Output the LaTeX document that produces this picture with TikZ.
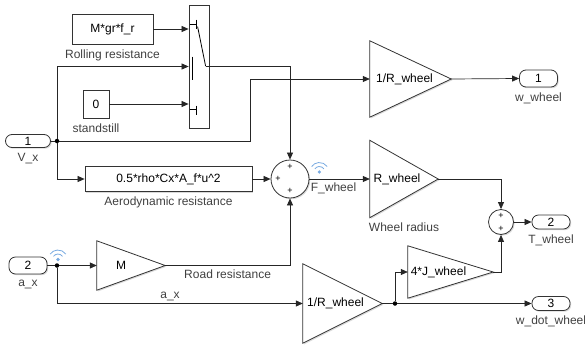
\documentclass[tikz,border=0pt]{standalone}
\usepackage{fontspec}
\setmainfont{Liberation Sans}
\usetikzlibrary{arrows.meta,calc,positioning,shadows}
\definecolor{logblue}{RGB}{120,170,225}
\pgfdeclarelayer{bg}
\pgfsetlayers{bg,main}
\tikzset{
  blk/.style={draw=black!80, fill=white, line width=0.8pt,
    drop shadow={shadow xshift=1.2pt, shadow yshift=-1.2pt, opacity=0.3}},
  box/.style={blk, rectangle, inner sep=0pt},
  port/.style={blk, rectangle, rounded corners=6.5pt, minimum width=38pt,
    minimum height=14pt, inner sep=0pt},
  sumb/.style={blk, circle, inner sep=0pt},
  gain/.style={rectangle, inner sep=0pt},
  sig/.style={draw=black!85, line width=0.7pt, -{Triangle[length=7pt,width=6pt]}},
  wire/.style={draw=black!85, line width=0.7pt},
  dot/.style={circle, fill=black, inner sep=0pt, minimum size=4.5pt},
  lbl/.style={text=black!75, inner sep=2pt},
  blbl/.style={lbl, yshift=-3pt},
  pl/.style={font=\fontsize{9}{9}\selectfont, inner sep=0pt},
  logmark/.pic={
    \fill[logblue] (0,0) circle (1.8pt);
    \draw[logblue, line width=0.8pt] (35:5.5pt) arc[start angle=35, end angle=145, radius=5.5pt];
    \draw[logblue, line width=0.8pt] (35:9.5pt) arc[start angle=35, end angle=145, radius=9.5pt];
  },
}
\begin{document}
\begin{tikzpicture}[x=1pt, y=-1pt, font=\fontsize{12}{14}\selectfont]
\useasboundingbox (0,0) rectangle (585,345);
% sources and switch
\node[box, minimum width=81, minimum height=30, label={[blbl]below:Rolling resistance}] (fr) at (112.5,29) {M*gr*f\_r};
\node[box, minimum width=26, minimum height=28, label={[blbl]below:standstill}] (c0) at (96,104) {0};
\node[box, minimum width=20, minimum height=123] (sw) at (199,66.5) {};
\begin{scope}[shift={(sw.north west)}, line width=0.8pt]
  \draw (1,20) -- (8,20) (8,15) -- (8,24);
  \draw (9,22) -- (17,61.5);
  \draw (4,52) -- (4,75);
  \draw (1,105) -- (8,105) (8,101) -- (8,110);
  \coordinate (swo) at (17,61.5);
\end{scope}
% inports
\node[port, minimum width=45, minimum height=13, label={[blbl]below:V\_x}] (vx) at (28,141) {1};
\node[port, minimum height=17, label={[blbl]below:a\_x}] (ax) at (28,265.5) {2};
\node[dot] (jv) at (57,141) {};
\node[dot] (ja) at (57,265.5) {};
\node[box, minimum width=167, minimum height=25, label={[blbl]below:Aerodynamic resistance}] (fa) at (168.5,179) {0.5*rho*Cx*A\_f*u\textasciicircum 2};
% gains
\node[gain, minimum width=81, minimum height=76, label={[xshift=-6pt]center:1/R\_wheel}] (gr) at (410.5,79) {};
\node[gain, minimum width=68, minimum height=77, label={[xshift=-7pt]center:R\_wheel},
  label={[blbl]below:Wheel radius}] (gw) at (404,179) {};
\node[gain, minimum width=68, minimum height=49, label={[xshift=-10pt]center:M}] (gm) at (131,265.5) {};
\node[gain, minimum width=79, minimum height=79, label={[xshift=-7pt]center:1/R\_wheel}] (gv) at (342.5,303.5) {};
\node[gain, minimum width=85, minimum height=52, label={[xshift=-12pt]center:4*J\_wheel}] (gj) at (450.5,272) {};
\begin{pgfonlayer}{bg}
  \foreach \g in {gr,gw,gm,gv,gj}
    \draw[blk] (\g.north west) -- (\g.east) -- (\g.south west) -- cycle;
\end{pgfonlayer}
% sums
\node[sumb, minimum size=38] (s1) at (290,179) {};
\foreach \a/\n in {90/t,180/l,270/b}
  \node[pl] (s1\n) at ([shift={(\a:12pt)}]s1.center) {+};
\node[sumb, minimum size=25] (s2) at (501,222) {};
\foreach \a/\n in {90/t,270/b}
  \node[pl] (s2\n) at ([shift={(\a:6.5pt)}]s2.center) {+};
% outports
\node[port, minimum height=17, label={[blbl]below:w\_wheel}] (o1) at (538.5,78.5) {1};
\node[port, label={[blbl]below:T\_wheel}] (o2) at (551,222) {2};
\node[port, label={[blbl]below:w\_dot\_wheel}] (o3) at (551,303.5) {3};
\node[dot] (jw) at (395,303.5) {};
% signals
\draw[sig] (fr.east) -- (fr.east -| sw.west);
\draw[sig] (jv) |- (sw.west);
\draw[sig] (c0.east) -- (c0.east -| sw.west);
\draw[wire] (vx.east) -- (jv);
\draw[sig] (jv) -- ++(193,0) |- (gr.west);
\draw[sig] (jv) |- (fa.west);
\draw[sig] (fa.east) -- (s1.west);
\draw[sig] (swo) -| (s1.north);
\draw[sig] (gr.east) -- (o1.west);
\draw[wire] (ax.east) -- (ja);
\draw[sig] (ja) -- (gm.west);
\draw[sig] (gm.east) -| node[pos=0.25, lbl, below=2pt] (lroad) {Road resistance} (s1.south);
\draw[sig] (ja) |- node[pos=0.73, lbl, above] (lax) {a\_x} (gv.west);
\draw[sig] (s1.east) -- node[pos=0.4, lbl, below=1pt] (lfw) {F\_wheel} (gw.west);
\draw[sig] (gw.east) -| (s2.north);
\draw[sig] (s2.east) -- (o2.west);
\draw[wire] (gv.east) -- (jw);
\draw[sig] (jw) |- (gj.west);
\draw[sig] (jw) -- (o3.west);
\draw[sig] (gj.east) -| (s2.south);
% logging marks
\pic at ([shift={(10,-7)}]s1.east) {logmark};
\pic at ([shift={(1,-6)}]ja) {logmark};
\end{tikzpicture}
\end{document}
